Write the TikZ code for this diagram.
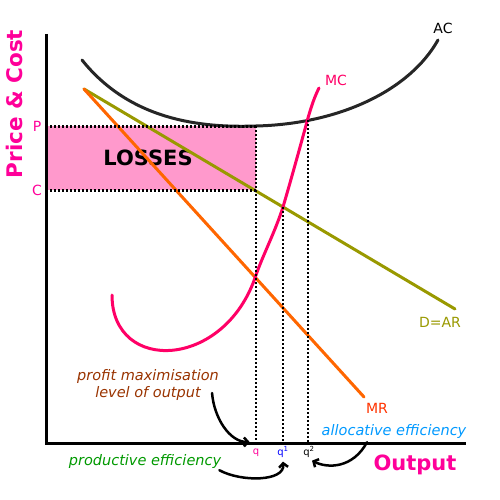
\documentclass[tikz,border=0pt]{standalone}
\usepackage{fontspec}
\setmainfont{DejaVu Sans}
\usetikzlibrary{arrows,arrows.meta,positioning}
\definecolor{ecpink}{RGB}{255,0,153}
\definecolor{ecmc}{RGB}{255,0,102}
\definecolor{ecfill}{RGB}{255,153,204}
\definecolor{ecolive}{RGB}{153,153,0}
\definecolor{ecorange}{RGB}{255,102,0}
\definecolor{ecred}{RGB}{255,51,0}
\definecolor{ecbrown}{RGB}{153,51,0}
\definecolor{ecgreen}{RGB}{0,153,0}
\definecolor{ecsky}{RGB}{0,153,255}
\tikzstyle{curve} = [line width=3pt, line cap=round]
\tikzstyle{guide} = [line width=1.5pt, dash pattern=on 2pt off 2pt]
\tikzstyle{lbl} = [font=\fontsize{14}{16}\selectfont, inner sep=1pt]
\tikzstyle{qlbl} = [font=\fontsize{10}{11}\selectfont, inner sep=1pt]
\tikzstyle{note} = [font=\itshape\fontsize{14.5}{17}\selectfont, align=center, inner sep=1pt]
\tikzstyle{arrow} = [line width=2.5pt, -{Straight Barb[length=4pt,width=9pt]}, line cap=round]

\begin{document}
\begin{tikzpicture}[x=1pt, y=-1pt]
\useasboundingbox (0,0) rectangle (500,500);
% losses area
\fill[ecfill] (46,126) rectangle (256,190);
\node[font=\bfseries\fontsize{21}{23}\selectfont] (loss) at (148,158) {LOSSES};
% cost and revenue curves
\draw[curve, ecolive] (84,89) -- (455,309);
\draw[curve, ecorange] (84,89) -- (364,397);
\draw[curve, black!85] (82,60) .. controls (130,120) and (200,128) .. (256,126)
  .. controls (340,124) and (410,90) .. (438,40);
\draw[curve, ecmc] (112,295) .. controls (112,374) and (225,370) .. (256,275)
  .. controls (263,255) and (275,232) .. (283,207)
  .. controls (291,180) and (302,140) .. (308,118)
  .. controls (312,104) and (315,96) .. (319,88);
% dotted guides
\draw[guide, line width=3pt] (46,126) -- (256,126);
\draw[guide, line width=3pt] (46,190) -- (256,190);
\draw[guide] (256,126) -- (256,443);
\draw[guide] (283,207) -- (283,443);
\draw[guide] (308,120) -- (308,443);
% axes
\draw[line width=3pt] (46,34) -- (46,443) -- (466,443);
\node[font=\bfseries\fontsize{21.5}{23}\selectfont, ecpink, rotate=90] (pc) at (14,104) {Price \& Cost};
\node[lbl, ecpink] (p) at (37,126) {P};
\node[lbl, ecpink] (c) at (37,190) {C};
\node[font=\bfseries\fontsize{21}{23}\selectfont, ecpink] (out) at (415,465) {Output};
% curve labels
\node[lbl] (ac) at (443,28) {AC};
\node[lbl, ecmc] (mc) at (336,80) {MC};
\node[lbl, ecolive] (dar) at (440,322) {D=AR};
\node[lbl, ecred] (mr) at (377,408) {MR};
\node[qlbl, ecpink] (q) at (256,453) {q};
\node[qlbl, blue] (q1) at (283,452) {q\textsuperscript{1}};
\node[qlbl] (q2) at (309,452) {q\textsuperscript{2}};
% notes
\node[note, ecbrown] (pm) at (148,385) {profit maximisation\\level of output};
\node[note, ecgreen] (pe) at (145,461) {productive efficiency};
\node[note, ecsky] (ae) at (394,431) {allocative efficiency};
\draw[arrow] ([xshift=-8pt,yshift=-8pt]pm.east) .. controls +(2,25) and +(-20,0) .. ([xshift=-2pt,yshift=6pt]q.north west);
\draw[arrow] ([xshift=-3pt,yshift=-1pt]pe.south east) .. controls +(22,12) and +(2,20) .. ([yshift=-3pt]q1.south);
\draw[arrow] ([xshift=-27pt,yshift=-3pt]ae.south) .. controls +(-14,26) and +(16,8) .. ([xshift=3pt,yshift=-2pt]q2.south);
\end{tikzpicture}
\end{document}
